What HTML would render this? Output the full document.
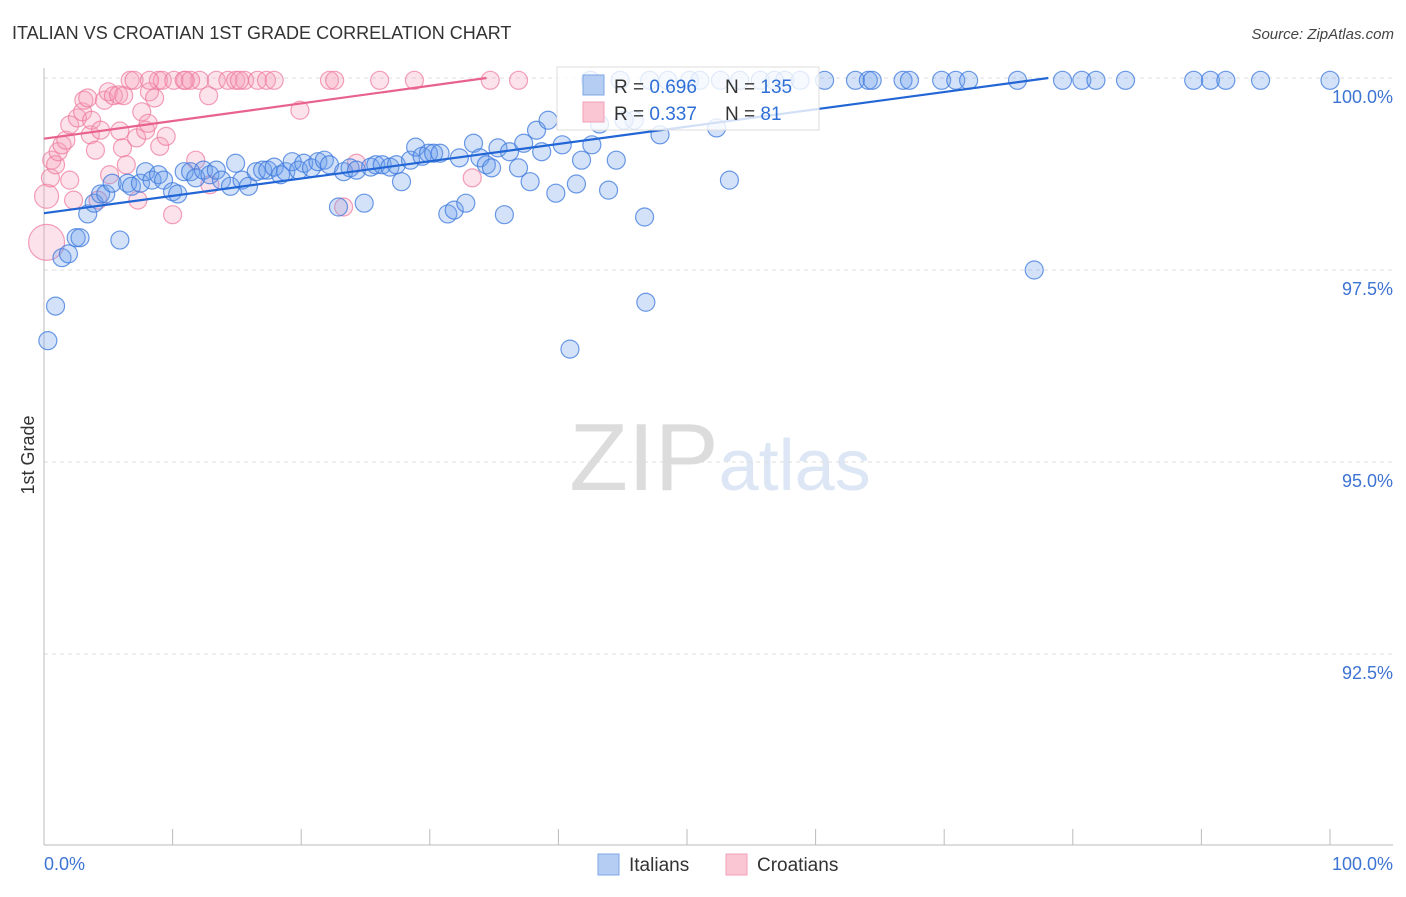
<!DOCTYPE html>
<html><head><meta charset="utf-8">
<style>
body{margin:0;background:#fff;font-family:"Liberation Sans",sans-serif;}
svg text{font-family:"Liberation Sans",sans-serif;}
</style></head>
<body>
<svg id="chart" width="1406" height="892" xmlns="http://www.w3.org/2000/svg">
<text x="12" y="39" font-size="18" fill="#333">ITALIAN VS CROATIAN 1ST GRADE CORRELATION CHART</text>
<text x="1394" y="39" font-size="15" fill="#444" text-anchor="end" font-style="italic">Source: ZipAtlas.com</text>
<text transform="translate(34,455) rotate(-90)" font-size="18" fill="#333" text-anchor="middle">1st Grade</text>
<text x="720" y="490" font-size="96" text-anchor="middle" fill="#e4e4e4" font-family="Liberation Serif"><tspan fill="#dcdcdc">ZIP</tspan><tspan fill="#dce6f4" font-family="Liberation Sans" font-size="72">atlas</tspan></text>
<g id="grid"></g>
<g id="axes"></g>
<g id="pts"></g>
<g id="trend"></g>
<g>
<rect x="557" y="67" width="262" height="63" fill="rgba(255,255,255,0.8)" stroke="#ddd"/>
<rect x="583" y="75" width="21" height="20" fill="#b5cdf2" stroke="#7ea6e6"/>
<rect x="583" y="102" width="21" height="20" fill="#fbc6d4" stroke="#f2a0b8"/>
<text x="614" y="93" font-size="19" fill="#333">R = <tspan fill="#2e6fd6">0.696</tspan></text>
<text x="725" y="93" font-size="19" fill="#333">N = <tspan fill="#2e6fd6">135</tspan></text>
<text x="614" y="120" font-size="19" fill="#333">R = <tspan fill="#2e6fd6">0.337</tspan></text>
<text x="725" y="120" font-size="19" fill="#333">N = <tspan fill="#2e6fd6">  81</tspan></text>
</g>
<g>
<rect x="598" y="854" width="21" height="21" fill="#b5cdf2" stroke="#7ea6e6"/>
<text x="629" y="871" font-size="19" fill="#333">Italians</text>
<rect x="726" y="854" width="21" height="21" fill="#fbc6d4" stroke="#f2a0b8"/>
<text x="757" y="871" font-size="19" fill="#333">Croatians</text>
</g>
</svg>
<script>
const yTicks=[100,97.5,95,92.5];
const yTickLabels=["100.0%","97.5%","95.0%","92.5%"];
const xTickLabels=["0.0%","100.0%"];
const itX=[0.3,0.9,1.4,1.9,2.5,2.8,3.4,3.9,4.4,4.8,5.3,5.9,6.5,6.8,7.5,7.9,8.4,8.9,9.3,10.0,10.4,10.9,11.4,11.8,12.4,12.9,13.4,13.8,14.5,14.9,15.4,15.9,16.5,17.0,17.4,17.9,18.4,18.8,19.3,19.8,20.2,20.8,21.3,21.8,22.2,22.9,23.3,23.8,24.3,24.9,25.4,25.8,26.3,26.9,27.4,27.8,28.5,28.9,29.4,29.9,30.3,30.8,31.4,31.9,32.3,32.8,33.4,33.9,34.4,34.8,35.3,35.8,36.2,36.9,37.3,37.8,38.3,38.7,39.2,39.8,40.3,40.9,41.4,41.8,42.6,43.2,43.9,44.5,45.1,45.9,46.7,46.8,47.9,52.3,53.3,77.0,
42.5,44.8,47.1,48.5,50.2,51.0,52.6,54.1,55.7,56.8,57.6,58.8,60.7,63.1,64.1,64.4,66.8,67.3,69.8,70.9,71.9,75.7,79.2,80.7,81.8,84.1,89.4,90.7,91.9,94.6,100];
const itY=[96.58,97.03,97.66,97.71,97.92,97.92,98.23,98.37,98.49,98.49,98.63,97.89,98.63,98.59,98.63,98.78,98.67,98.74,98.67,98.52,98.49,98.78,98.78,98.70,98.80,98.74,98.80,98.67,98.59,98.89,98.67,98.59,98.78,98.80,98.80,98.84,98.74,98.78,98.91,98.80,98.89,98.83,98.91,98.93,98.87,98.32,98.78,98.83,98.80,98.37,98.84,98.87,98.87,98.84,98.87,98.65,98.93,99.10,98.98,99.02,99.02,99.02,98.23,98.28,98.96,98.37,99.15,98.96,98.87,98.83,99.09,98.22,99.04,98.83,99.15,98.65,99.32,99.04,99.45,98.50,99.13,96.47,98.62,98.93,99.13,99.40,98.54,98.93,99.45,99.45,98.19,97.08,99.26,99.35,98.67,97.50,
99.97,99.97,99.97,99.97,99.97,99.97,99.97,99.97,99.97,99.97,99.97,99.97,99.97,99.97,99.97,99.97,99.97,99.97,99.97,99.97,99.97,99.97,99.97,99.97,99.97,99.97,99.97,99.97,99.97,99.97,99.97];
const crX=[0.2,0.2,0.5,0.6,0.9,1.1,1.4,1.7,2.0,2.0,2.3,2.6,3.0,3.1,3.4,3.6,3.7,4.0,4.2,4.4,4.7,5.0,5.1,5.4,5.8,5.9,6.1,6.2,6.4,6.7,7.0,7.2,7.3,7.6,7.9,8.1,8.2,8.6,8.9,9.0,9.2,9.5,10.0,10.1,11.0,11.8,12.1,12.8,12.9,13.4,14.3,14.9,15.6,16.6,17.3,17.9,19.9,22.2,22.6,23.3,24.3,26.1,28.8,33.3,34.7,36.9,8.2,10.9,11.4,15.2];
const crY=[98.46,97.86,98.70,98.93,98.87,99.04,99.13,99.19,98.67,99.39,98.41,99.48,99.56,99.71,99.74,99.26,99.45,99.06,98.41,99.32,99.71,99.82,98.74,99.77,99.78,99.31,99.09,99.77,98.87,99.97,99.97,99.22,98.41,99.56,99.32,99.41,99.82,99.74,99.97,99.11,99.97,99.24,98.22,99.97,99.97,98.93,99.97,99.77,98.61,99.97,99.97,99.97,99.97,99.97,99.97,99.97,99.58,99.97,99.97,98.32,98.89,99.97,99.97,98.70,99.97,99.97,99.97,99.97,99.97,99.97];
const crR=[12,18];
const itTrend=[[0,98.24],[78.1,100]];
const crTrend=[[0,99.21],[34.4,100]];
const NS="http://www.w3.org/2000/svg";
const X0=44,X1=1330,Y100=78,PXPER=76.8;
function sx(v){return X0+(X1-X0)*v/100;}
function sy(v){return Y100+(100-v)*PXPER;}
function mk(tag,at,parent){const e=document.createElementNS(NS,tag);for(const k in at)e.setAttribute(k,at[k]);parent.appendChild(e);return e;}
const grid=document.getElementById('grid'),axes=document.getElementById('axes'),pts=document.getElementById('pts'),trend=document.getElementById('trend');
yTicks.forEach((t,i)=>{
 const l=mk('line',{x1:44,x2:1393,y1:sy(t),y2:sy(t),stroke:'#ddd','stroke-dasharray':'4,4'},grid);
 
 
 const tx=mk('text',{x:1393,y:sy(t)+25,'font-size':18,fill:'#3d74d4','text-anchor':'end'},axes);
 tx.textContent=yTickLabels[i];
 
 
});
let a=mk('line',{x1:44,x2:44,y1:68,y2:845,stroke:'#bbb'},axes);


a=mk('line',{x1:44,x2:1393,y1:845,y2:845,stroke:'#bbb'},axes);


for(let k=0;k<=10;k++){
 const t=mk('line',{x1:sx(k*10),x2:sx(k*10),y1:829,y2:845,stroke:'#bbb'},axes);
 
 
}
[[0,'start',44],[100,'end',1393]].forEach((d,i)=>{
 const tx=mk('text',{x:d[2],y:870,'font-size':18,fill:'#3d74d4','text-anchor':d[1]},axes);
 tx.textContent=xTickLabels[i];
 
 
});
crX.forEach((x,i)=>{
 const c=mk('circle',{cx:sx(x),cy:sy(crY[i]),r:crR[i]||9,fill:'rgba(246,160,186,0.3)',stroke:'rgba(238,120,155,0.7)','stroke-width':1.2},pts);
 
 
});
itX.forEach((x,i)=>{
 const c=mk('circle',{cx:sx(x),cy:sy(itY[i]),r:9,fill:'rgba(110,160,235,0.3)',stroke:'rgba(60,120,220,0.75)','stroke-width':1.2},pts);
 
 
});
let tl=mk('line',{x1:sx(crTrend[0][0]),y1:sy(crTrend[0][1]),x2:sx(crTrend[1][0]),y2:sy(crTrend[1][1]),stroke:'#e8628e','stroke-width':2.2},trend);


tl=mk('line',{x1:sx(itTrend[0][0]),y1:sy(itTrend[0][1]),x2:sx(itTrend[1][0]),y2:sy(itTrend[1][1]),stroke:'#2266d6','stroke-width':2.2},trend);


</script>
</body></html>
